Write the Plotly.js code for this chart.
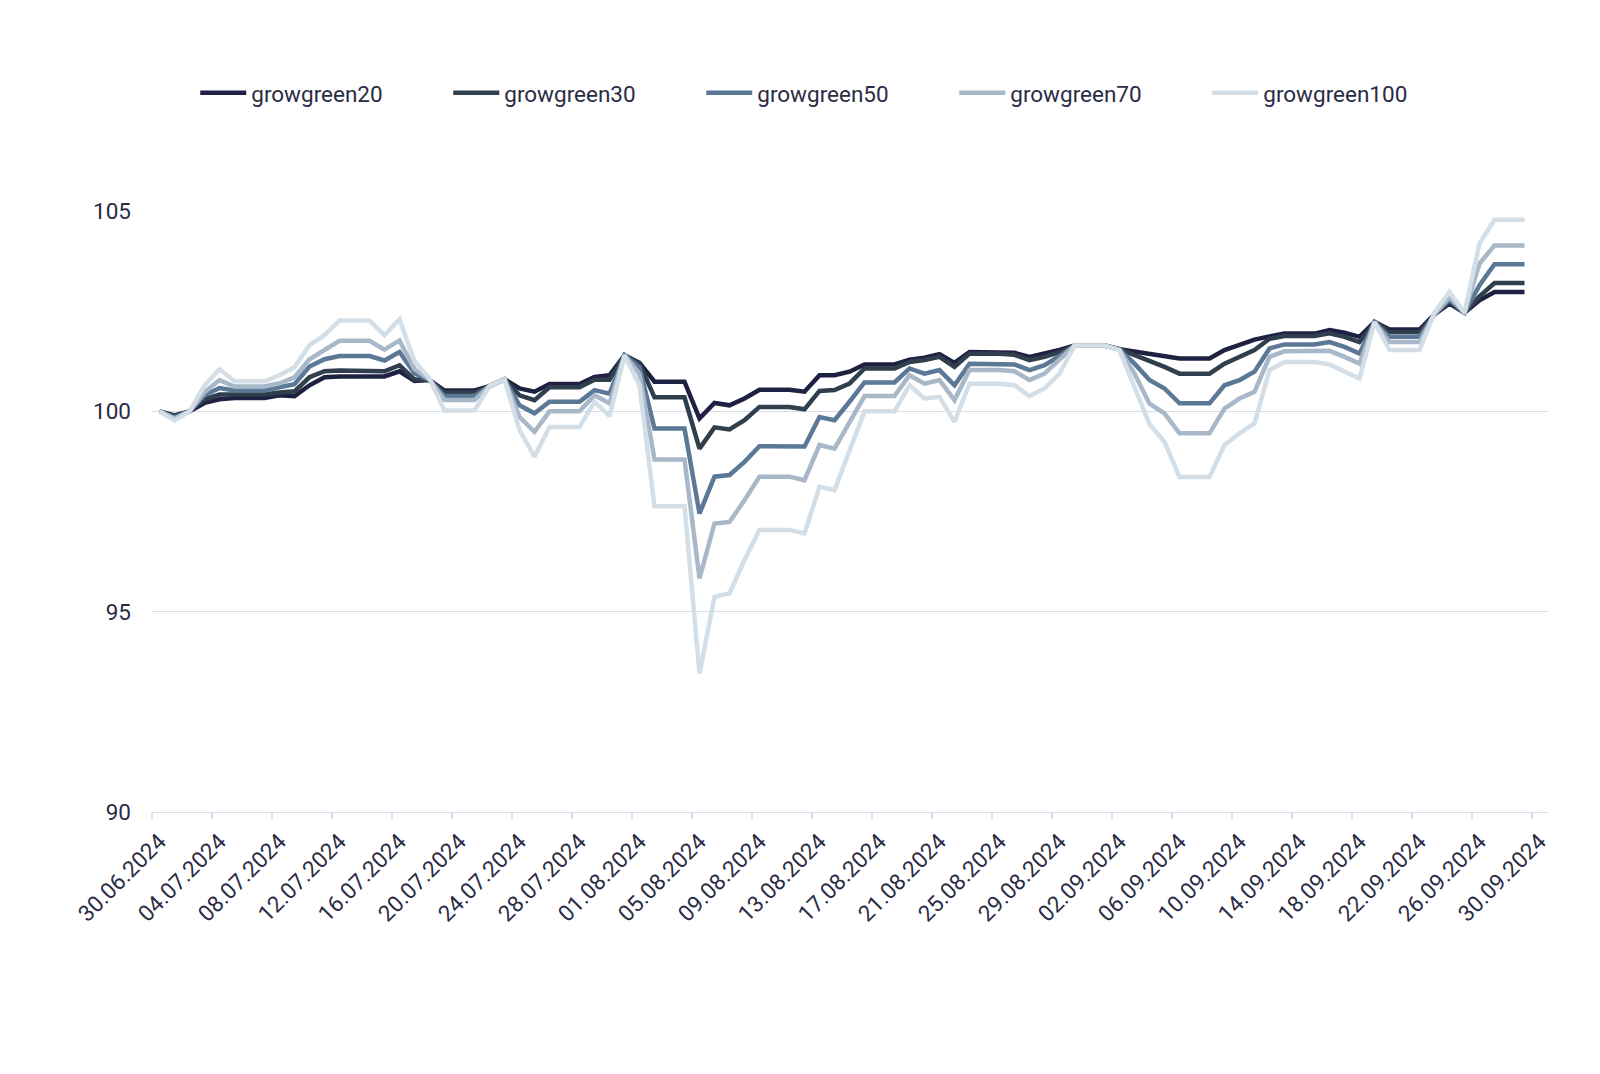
<!DOCTYPE html>
<html>
<head>
<meta charset="utf-8">
<script src="https://cdn.plot.ly/plotly-3.0.1.min.js"></script>
<style>
  html, body { margin: 0; padding: 0; background: #ffffff; }
  #chart { width: 1600px; height: 1074px; }
</style>
</head>
<body>
<div id="chart"></div>
<script>
// daily categories 30.06.2024 .. 30.09.2024 (last one has no value)
const dates = [];
for (let d = new Date(Date.UTC(2024, 5, 30)); d <= new Date(Date.UTC(2024, 8, 30)); d.setUTCDate(d.getUTCDate() + 1)) {
    const dd = String(d.getUTCDate()).padStart(2, '0');
    const mm = String(d.getUTCMonth() + 1).padStart(2, '0');
    dates.push(`${dd}.${mm}.${d.getUTCFullYear()}`);
}

const seriesNames = ['growgreen20', 'growgreen30', 'growgreen50', 'growgreen70', 'growgreen100'];
const seriesColors = ['#1f2142', '#2f3f4d', '#5b7896', '#a8b8c8', '#d4dee6'];

const growgreen20 = [
    100, 99.9, 100, 100.21, 100.3, 100.33, 100.33, 100.33, 100.4, 100.38,
    100.65, 100.85, 100.87, 100.87, 100.87, 100.87, 101.0, 100.76, 100.78, 100.52,
    100.52, 100.52, 100.63, 100.8, 100.57, 100.49, 100.68, 100.68, 100.68, 100.86,
    100.9, 101.4, 101.21, 100.74, 100.74, 100.74, 99.82, 100.21, 100.15, 100.32,
    100.54, 100.54, 100.54, 100.49, 100.9, 100.9, 100.99, 101.17, 101.17, 101.17,
    101.29, 101.34, 101.43, 101.21, 101.48, 101.48, 101.48, 101.46, 101.36, 101.44,
    101.53, 101.64, 101.64, 101.64, 101.55, 101.49, 101.42, 101.36, 101.32, 101.32,
    101.32, 101.53, 101.65, 101.79, 101.87, 101.94, 101.94, 101.94, 102.03, 101.96,
    101.86, 102.23, 102.04, 102.04, 102.04, 102.42, 102.69, 102.46, 102.77, 102.98,
    102.98, 102.98
];
const growgreen30 = [
    100, 99.88, 100, 100.3, 100.42, 100.42, 100.42, 100.42, 100.47, 100.5,
    100.85, 101.0, 101.02, 101.02, 101.02, 101.0, 101.15, 100.8, 100.78, 100.47,
    100.47, 100.47, 100.63, 100.8, 100.4, 100.28, 100.6, 100.6, 100.6, 100.79,
    100.79, 101.4, 101.19, 100.35, 100.35, 100.35, 99.07, 99.6, 99.55, 99.78,
    100.11, 100.11, 100.11, 100.05, 100.51, 100.53, 100.69, 101.07, 101.07, 101.07,
    101.23, 101.28, 101.36, 101.11, 101.44, 101.44, 101.44, 101.41, 101.28, 101.36,
    101.48, 101.64, 101.64, 101.64, 101.55, 101.41, 101.24, 101.11, 100.94, 100.94,
    100.94, 101.19, 101.36, 101.53, 101.81, 101.88, 101.88, 101.88, 101.95, 101.86,
    101.73, 102.23, 101.98, 101.98, 101.98, 102.42, 102.73, 102.46, 102.87, 103.2,
    103.2, 103.2
];
const growgreen50 = [
    100, 99.85, 100, 100.4, 100.58, 100.52, 100.52, 100.52, 100.6, 100.68,
    101.12, 101.3, 101.38, 101.38, 101.38, 101.27, 101.48, 100.95, 100.78, 100.38,
    100.38, 100.38, 100.63, 100.8, 100.15, 99.95, 100.24, 100.24, 100.24, 100.53,
    100.44, 101.4, 101.1, 99.57, 99.57, 99.57, 97.45, 98.37, 98.41, 98.74,
    99.13, 99.13, 99.13, 99.12, 99.86, 99.78, 100.24, 100.72, 100.72, 100.72,
    101.07, 100.94, 101.03, 100.65, 101.19, 101.19, 101.19, 101.17, 101.03, 101.15,
    101.38, 101.64, 101.64, 101.64, 101.55, 101.19, 100.78, 100.57, 100.2, 100.2,
    100.2, 100.65, 100.78, 100.99, 101.57, 101.67, 101.67, 101.67, 101.73, 101.61,
    101.44, 102.23, 101.86, 101.86, 101.86, 102.42, 102.79, 102.46, 103.15, 103.67,
    103.67, 103.67
];
const growgreen70 = [
    100, 99.82, 100, 100.48, 100.78, 100.62, 100.62, 100.62, 100.7, 100.85,
    101.3, 101.52, 101.76, 101.76, 101.76, 101.54, 101.77, 101.05, 100.8, 100.28,
    100.28, 100.28, 100.63, 100.8, 99.86, 99.49, 100.0, 100.0, 100.0, 100.4,
    100.2, 101.4, 100.94, 98.8, 98.8, 98.8, 95.83, 97.2, 97.24, 97.78,
    98.37, 98.37, 98.37, 98.28, 99.16, 99.07, 99.74, 100.38, 100.38, 100.38,
    100.9, 100.69, 100.78, 100.28, 101.03, 101.03, 101.03, 101.0, 100.78, 100.94,
    101.28, 101.64, 101.64, 101.64, 101.54, 100.94, 100.19, 99.95, 99.45, 99.45,
    99.45, 100.07, 100.32, 100.49, 101.36, 101.5, 101.5, 101.5, 101.51, 101.36,
    101.19, 102.23, 101.73, 101.73, 101.73, 102.43, 102.85, 102.46, 103.69, 104.14,
    104.14, 104.14
];
const growgreen100 = [
    100, 99.77, 100, 100.65, 101.05, 100.75, 100.75, 100.75, 100.9, 101.1,
    101.65, 101.9, 102.27, 102.27, 102.27, 101.9, 102.3, 101.25, 100.82, 100.02,
    100.02, 100.02, 100.63, 100.8, 99.53, 98.87, 99.61, 99.61, 99.61, 100.24,
    99.88, 101.4, 100.65, 97.63, 97.63, 97.63, 93.46, 95.37, 95.46, 96.29,
    97.04, 97.04, 97.04, 96.95, 98.12, 98.03, 99.03, 100.0, 100.0, 100.0,
    100.65, 100.32, 100.36, 99.74, 100.69, 100.69, 100.69, 100.65, 100.38, 100.57,
    100.94, 101.64, 101.64, 101.64, 101.52, 100.61, 99.68, 99.24, 98.36, 98.36,
    98.36, 99.16, 99.45, 99.7, 101.03, 101.23, 101.23, 101.23, 101.17, 100.99,
    100.82, 102.23, 101.53, 101.53, 101.53, 102.47, 102.98, 102.46, 104.19, 104.78,
    104.78, 104.78
];

const seriesValues = [growgreen20, growgreen30, growgreen50, growgreen70, growgreen100];

const textColor = '#2a2c44';
const gridColor = '#dadcec';
const fontFamily = 'Roboto, "Noto Sans", sans-serif';
const fontSize = 22.5;

const data = seriesValues.map((values, i) => ({
    type: 'scatter',
    mode: 'lines',
    name: seriesNames[i],
    x: dates,
    y: values.concat([null]),
    line: { color: seriesColors[i], width: 4.5 },
    hoverinfo: 'x+y+name'
}));

const layout = {
    width: 1600,
    height: 1074,
    paper_bgcolor: '#ffffff',
    plot_bgcolor: '#ffffff',
    margin: { l: 152, r: 53, t: 211, b: 262 },
    font: { family: fontFamily, size: fontSize, color: textColor },
    showlegend: true,
    legend: {
        orientation: 'h',
        x: 0.031,
        xanchor: 'left',
        y: 1.196,
        yanchor: 'middle',
        entrywidth: 192,
        entrywidthmode: 'pixels',
        itemwidth: 46,
        font: { family: fontFamily, size: fontSize, color: textColor },
        bgcolor: 'rgba(0,0,0,0)'
    },
    xaxis: {
        type: 'category',
        range: [-0.5, dates.length - 0.5],
        tickson: 'boundaries',
        dtick: 4,
        tickangle: -45,
        ticks: 'outside',
        ticklen: 6,
        tickwidth: 1.3,
        tickcolor: gridColor,
        showline: true,
        linecolor: gridColor,
        linewidth: 1.3,
        showgrid: false,
        zeroline: false,
        ticklabelstandoff: 6,
        tickfont: { family: fontFamily, size: fontSize, color: textColor }
    },
    yaxis: {
        range: [90, 105],
        dtick: 5,
        tick0: 90,
        showgrid: true,
        gridcolor: gridColor,
        gridwidth: 1.3,
        zeroline: false,
        showline: false,
        ticks: '',
        ticklabelstandoff: 20,
        tickfont: { family: fontFamily, size: fontSize, color: textColor }
    }
};

Plotly.newPlot('chart', data, layout, { displayModeBar: false, staticPlot: true });
</script>
</body>
</html>
